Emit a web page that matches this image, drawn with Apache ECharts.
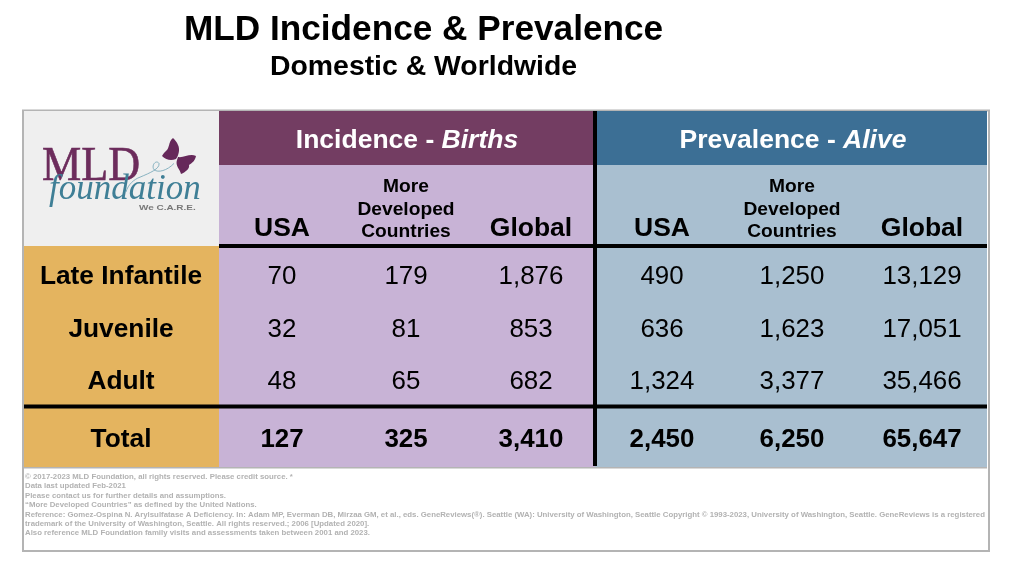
<!DOCTYPE html>
<html><head><meta charset="utf-8">
<style>html,body{margin:0;padding:0;background:#fff}#c{width:1024px;height:579px}</style>
<script src="https://cdn.jsdelivr.net/npm/echarts@6/dist/echarts.min.js"></script>
</head><body><div id="c"></div>
<script>
// ---------- data ----------
const rowLabels = ['Late Infantile', 'Juvenile', 'Adult', 'Total'];
const subHeaders = ['USA', 'More\nDeveloped\nCountries', 'Global'];
const incidenceUSA = [70, 32, 48, 127];
const incidenceMDC = [179, 81, 65, 325];
const incidenceGlobal = [1876, 853, 682, 3410];
const prevalenceUSA = [490, 636, 1324, 2450];
const prevalenceMDC = [1250, 1623, 3377, 6250];
const prevalenceGlobal = [13129, 17051, 35466, 65647];
const footnotes = [
  '© 2017-2023 MLD Foundation, all rights reserved. Please credit source. *',
  'Data last updated Feb-2021',
  'Please contact us for further details and assumptions.',
  '“More Developed Countries” as defined by the United Nations.',
  'Reference: Gomez-Ospina N. Arylsulfatase A Deficiency. In: Adam MP, Everman DB, Mirzaa GM, et al., eds. GeneReviews(®). Seattle (WA): University of Washington, Seattle Copyright © 1993-2023, University of Washington, Seattle. GeneReviews is a registered',
  'trademark of the University of Washington, Seattle. All rights reserved.; 2006 [Updated 2020].',
  'Also reference MLD Foundation family visits and assessments taken between 2001 and 2023.'
];
const columns = [incidenceUSA, incidenceMDC, incidenceGlobal, prevalenceUSA, prevalenceMDC, prevalenceGlobal];

// ---------- layout ----------
const SANS = '"Liberation Sans", Arial, sans-serif';
const SERIF = '"Liberation Serif", serif';
const colX = [282, 406, 531, 662, 792, 922];
const rowY = [277, 330, 382, 440];
const blocks = [
  [23, 110.5, 989, 551, '#ffffff', '#b4b4b4'],
  [24, 111, 219, 246, '#efefef'],
  [24, 246, 219, 467, '#e4b45f'],
  [219, 111, 595, 165, '#733d62'],
  [595, 111, 987, 165, '#3c6f95'],
  [219, 165, 595, 467, '#c8b3d6'],
  [595, 165, 987, 467, '#a9bfd0'],
  [24, 467, 987, 468.5, '#b4b4b4'],
  [593, 111, 597, 466, '#000000'],
  [219, 244, 987, 248, '#000000'],
  [24, 404.5, 987, 408.5, '#000000']
];
const textItems = [];
textItems.push({x: 407, y: 141, text: '{a|Incidence - }{b|Births}', fill: '#fff', rich: 1});
textItems.push({x: 793, y: 141, text: '{a|Prevalence - }{b|Alive}', fill: '#fff', rich: 1});
colX.forEach((x, i) => {
  const h = subHeaders[i % 3];
  if (h.indexOf('\n') >= 0) {
    h.split('\n').forEach((line, k) => textItems.push({x, y: 187 + k * 22.5, text: line, font: 'bold 19.2px ' + SANS, fill: '#000'}));
  } else {
    textItems.push({x, y: 229, text: h, font: 'bold 26.5px ' + SANS, fill: '#000'});
  }
});
rowLabels.forEach((l, r) => textItems.push({x: 121, y: rowY[r], text: l, font: 'bold 26.3px ' + SANS, fill: '#000'}));
columns.forEach((col, c) => col.forEach((v, r) => textItems.push({
  x: colX[c], y: rowY[r], text: v.toLocaleString('en-US'),
  font: (r === 3 ? 'bold ' : '') + '25.9px ' + SANS, fill: '#000'
})));
textItems.push({x: 42, y: 167, text: 'MLD', align: 'left', font: '49px ' + SERIF, fill: '#6c2c5c', stroke: '#6c2c5c', scaleX: 0.9});
textItems.push({x: 49, y: 190, text: 'foundation', align: 'left', font: 'italic 35px ' + SERIF, fill: '#3f7f96'});
textItems.push({x: 139, y: 208, text: 'We C.A.R.E.', align: 'left', font: 'bold 7px ' + SANS, fill: '#777', scaleX: 1.42});

const logoPaths = [
  {d: 'M173 138 C168 142 170 148 166 151 C164 153 163 154 162 156 C166 160 171 161 176 159 C179 155 180 149 178 145 C177 142 175 140 173 138 Z M178 157 C184 158 190 153 196 156 C195 161 192 163 189 165 C190 168 186 172 181 174 C180 169 175 166 177 160 Z',
   box: [162, 138, 34, 36], fill: '#66285a'},
  {d: 'M174 165 C167 172 158 174 154 171 C151 167 156 161 159 165 C160 170 150 174 140 178 C134 180 128 185 126 192',
   box: [126, 162, 48, 30], stroke: '#6fa3b5'}
];

const chart = echarts.init(document.getElementById('c'));
chart.setOption({
  animation: false,
  backgroundColor: '#fff',
  title: [
    {text: 'MLD Incidence & Prevalence', left: 184, top: 13, padding: 0,
     textStyle: {fontFamily: SANS, fontWeight: 'bold', fontSize: 35.2, color: '#000'}},
    {text: 'Domestic & Worldwide', left: 270, top: 53, padding: 0,
     textStyle: {fontFamily: SANS, fontWeight: 'bold', fontSize: 28.4, color: '#000'}}
  ],
  grid: {left: 0, right: 0, top: 0, bottom: 0},
  xAxis: {type: 'value', min: 0, max: 1024, show: false},
  yAxis: {type: 'value', min: 0, max: 579, inverse: true, show: false},
  series: [
    {
      type: 'custom', coordinateSystem: 'cartesian2d', silent: true, z: 1,
      data: blocks.map((b, i) => [i]),
      renderItem(params, api) {
        const b = blocks[api.value(0)];
        const p = api.coord([b[0], b[1]]), q = api.coord([b[2], b[3]]);
        return {type: 'rect', shape: {x: p[0], y: p[1], width: q[0] - p[0], height: q[1] - p[1]},
          style: {fill: b[4], stroke: b[5] || null, lineWidth: b[5] ? 2 : 0}};
      }
    },
    {
      type: 'custom', coordinateSystem: 'cartesian2d', silent: true, z: 4,
      data: logoPaths.map((b, i) => [i]),
      renderItem(params, api) {
        const l = logoPaths[api.value(0)];
        const p = api.coord([l.box[0], l.box[1]]);
        return {type: 'path',
          shape: {pathData: l.d, layout: 'cover', x: p[0], y: p[1], width: l.box[2], height: l.box[3]},
          style: {fill: l.fill || null, stroke: l.stroke || null, lineWidth: 0.8}};
      }
    },
    {
      type: 'custom', coordinateSystem: 'cartesian2d', silent: true, z: 3,
      data: textItems.map((t, i) => [i]),
      renderItem(params, api) {
        const t = textItems[api.value(0)];
        const p = api.coord([t.x, t.y]);
        const style = {text: t.text, x: 0, y: 0, align: t.align || 'center', verticalAlign: 'middle', fill: t.fill};
        if (t.stroke) { style.stroke = t.stroke; style.lineWidth = 0.6; }
        if (t.rich) {
          style.rich = {
            a: {fill: '#fff', fontFamily: SANS, fontWeight: 'bold', fontSize: 26.5},
            b: {fill: '#fff', fontFamily: SANS, fontWeight: 'bold', fontStyle: 'italic', fontSize: 26.5}
          };
        } else {
          style.font = t.font;
        }
        return {type: 'text', x: p[0], y: p[1], scaleX: t.scaleX || 1, style};
      }
    },
    {
      type: 'custom', coordinateSystem: 'cartesian2d', silent: true, z: 3,
      data: footnotes.map((t, i) => [i]),
      renderItem(params, api) {
        const i = api.value(0);
        const p = api.coord([25, 477 + i * 9.35]);
        return {type: 'text', style: {text: footnotes[i], x: p[0], y: p[1], align: 'left', verticalAlign: 'middle',
          font: 'bold 7.8px ' + SANS, fill: '#b2b2b2'}};
      }
    }
  ]
});
</script></body></html>
